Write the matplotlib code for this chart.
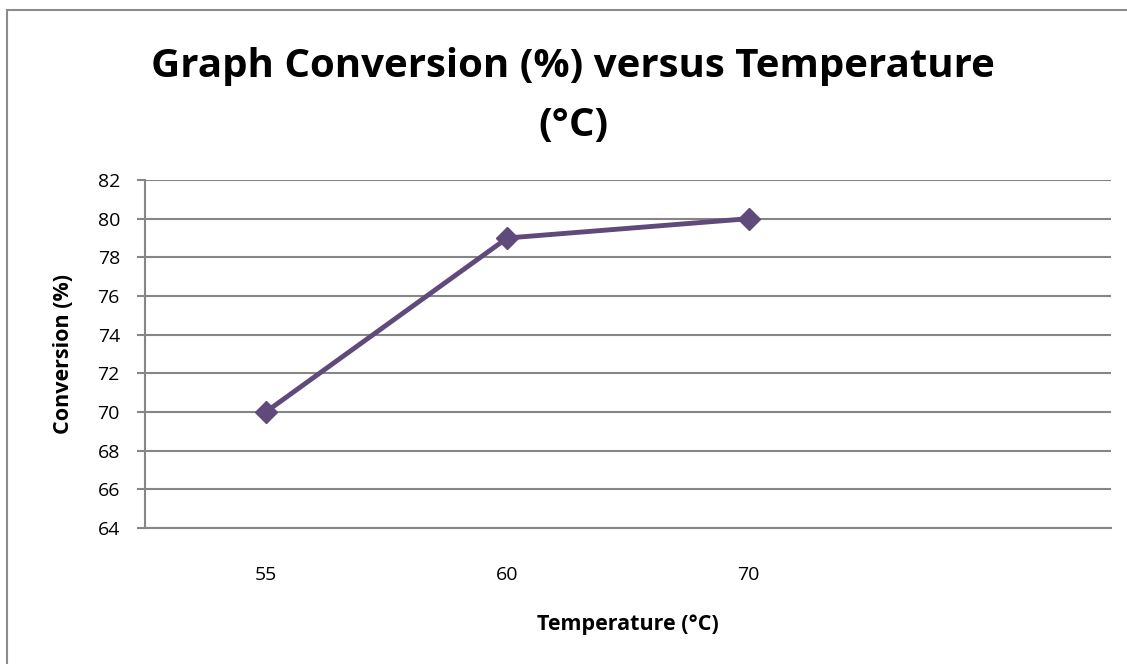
import matplotlib.pyplot as plt
from matplotlib.patches import Rectangle

# conversion data
temperatures = ['55', '60', '70', '']
conversion = [70, 79, 80]
y_ticks = list(range(64, 83, 2))

plt.rcParams['font.family'] = ['Open Sans', 'DejaVu Sans']

W, H = 1127, 664
fig = plt.figure(figsize=(W / 100, H / 100), dpi=100)
ax = fig.add_axes([145 / W, 1 - 528 / H, (1111 - 145) / W, (528 - 180) / H])

grid_col = '#868686'
purple = '#604A7B'

ax.set_xlim(-0.5, len(temperatures) - 0.5)
ax.set_ylim(64, 82)
ax.set_yticks(y_ticks)
ax.set_xticks(range(len(temperatures)))
ax.set_xticklabels(temperatures)
ax.grid(axis='y', color=grid_col, linewidth=1.5)
ax.set_axisbelow(True)

for side in ['top', 'right']:
    ax.spines[side].set_visible(False)
ax.spines['left'].set_color(grid_col)
ax.spines['left'].set_linewidth(1.5)
ax.spines['bottom'].set_color(grid_col)
ax.spines['bottom'].set_linewidth(1.5)

ax.tick_params(axis='y', length=6, width=1.5, color=grid_col, labelsize=14, pad=12)
ax.tick_params(axis='x', length=0, labelsize=14, pad=27)

ax.plot(range(len(conversion)), conversion, color=purple, linewidth=3.5,
        marker='D', markersize=11, zorder=3)

ax.set_ylabel('Conversion (%)', fontsize=15.5, fontweight='bold', labelpad=17)
ax.set_xlabel('Temperature (°C)', fontsize=15.5, fontweight='bold', labelpad=22)

fig.text(573 / W, 1 - 96 / H, 'Graph Conversion (%) versus Temperature\n(°C)',
         ha='center', va='center', fontsize=29, fontweight='bold',
         linespacing=1.7)

# chart frame
fig.patches.append(Rectangle((6.5 / W, -0.1), 1.2, 1 - 9.5 / H + 0.1,
                             transform=fig.transFigure, fill=False,
                             edgecolor='#8c8c8c', linewidth=1.5))

fig.savefig('out.png', dpi=100)
